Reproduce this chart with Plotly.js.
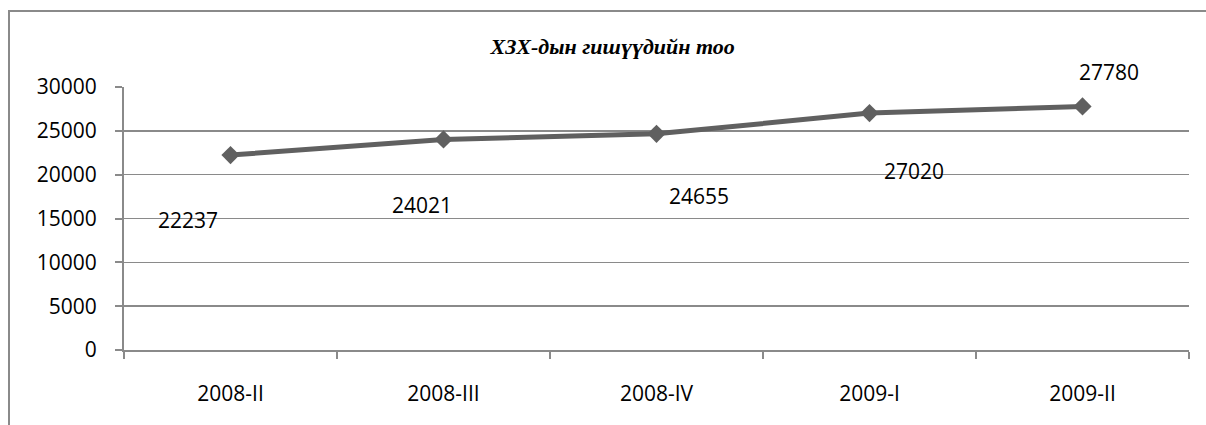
<!DOCTYPE html>
<html>
<head>
<meta charset="utf-8">
<script src="https://cdn.plot.ly/plotly-3.0.1.min.js"></script>
<style>
  html, body { margin: 0; padding: 0; background: #fff; }
  #wrap { position: relative; width: 1206px; height: 425px; overflow: hidden; }
  #chart { position: absolute; left: 0; top: 0; width: 1206px; height: 425px; }
  #frame { position: absolute; left: 8px; top: 10px; width: 1300px; height: 500px;
           border-left: 2px solid #8a8a8a; border-top: 2px solid #8a8a8a; pointer-events: none; }
</style>
</head>
<body>
<div id="wrap">
  <div id="chart"></div>
  <div id="frame"></div>
</div>
<script>
const categories = ["2008-II", "2008-III", "2008-IV", "2009-I", "2009-II"];
const members = [22237, 24021, 24655, 27020, 27780];
const yTickValues = [0, 5000, 10000, 15000, 20000, 25000, 30000];
const chartTitle = "ХЗХ-дын гишүүдийн тоо";

// label placement offsets (px) reproducing the original label positions
const labelShiftX = [-43, -22, 42, 44, 26];
const labelShiftY = [-65, -66, -62, -58, 34];

const trace = {
  type: "scatter",
  mode: "lines+markers",
  x: categories,
  y: members,
  line: { color: "#606060", width: 5 },
  marker: { symbol: "diamond", size: 14, color: "#606060" },
  hoverinfo: "x+y"
};

const annotations = members.map((v, i) => ({
  x: categories[i],
  y: v,
  xref: "x",
  yref: "y",
  text: String(v),
  showarrow: false,
  xshift: labelShiftX[i],
  yshift: labelShiftY[i],
  font: { family: "Open Sans, sans-serif", size: 21, color: "#000" }
}));

const layout = {
  width: 1206,
  height: 425,
  margin: { l: 124, r: 17, t: 87, b: 75 },
  paper_bgcolor: "#ffffff",
  plot_bgcolor: "#ffffff",
  showlegend: false,
  title: {
    text: "<b><i>" + chartTitle + "</i></b>",
    font: { family: "Liberation Serif, Times New Roman, serif", size: 22, color: "#000" },
    x: 0.508,
    xanchor: "center",
    y: 0.89,
    yanchor: "middle"
  },
  xaxis: {
    type: "category",
    range: [-0.5, 4.5],
    autorange: false,
    tickson: "boundaries",
    ticks: "outside",
    ticklen: 7,
    tickwidth: 2,
    tickcolor: "#8a8a8a",
    showline: true,
    linecolor: "#8a8a8a",
    linewidth: 2,
    showgrid: false,
    zeroline: false,
    ticklabelstandoff: 24,
    tickfont: { family: "Open Sans, sans-serif", size: 21, color: "#000" }
  },
  yaxis: {
    range: [0, 30000],
    autorange: false,
    tickvals: yTickValues,
    ticktext: yTickValues.map(String),
    ticks: "outside",
    ticklen: 7,
    tickwidth: 2,
    tickcolor: "#8a8a8a",
    showline: true,
    linecolor: "#8a8a8a",
    linewidth: 2,
    showgrid: true,
    gridcolor: "#8a8a8a",
    gridwidth: 1.5,
    zeroline: false,
    ticklabelstandoff: 14,
    tickfont: { family: "Open Sans, sans-serif", size: 21, color: "#000" }
  },
  annotations: annotations
};

Plotly.newPlot("chart", [trace], layout, { displayModeBar: false, staticPlot: true });
</script>
</body>
</html>
